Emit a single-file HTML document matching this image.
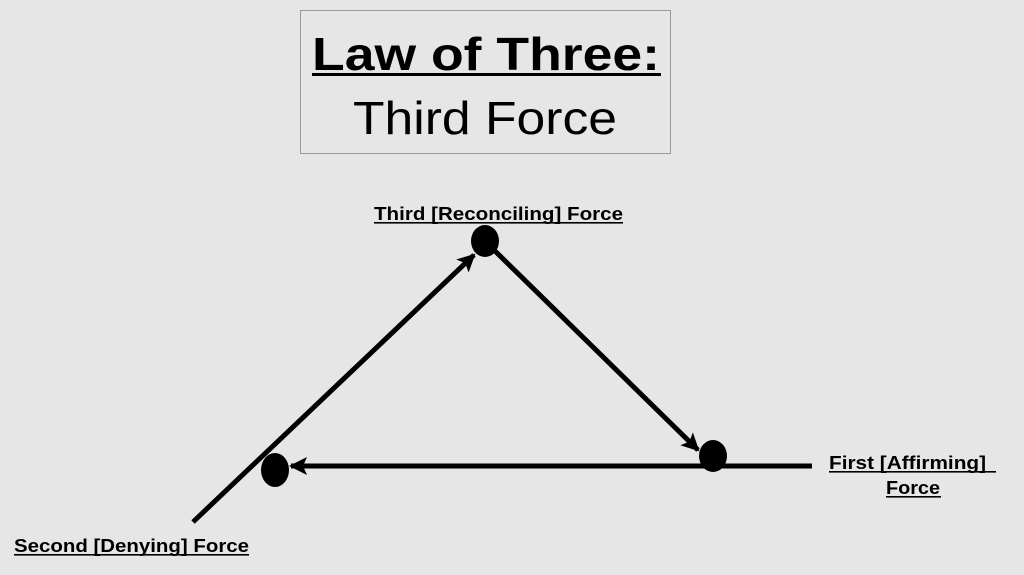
<!DOCTYPE html>
<html><head><meta charset="utf-8"><style>
html,body{margin:0;padding:0;background:#e6e6e6;}
svg{display:block;}
text{font-family:"Liberation Sans",sans-serif;fill:#000;}
</style></head><body>
<svg width="1024" height="575" viewBox="0 0 1024 575" xmlns="http://www.w3.org/2000/svg">
<defs>
<marker id="ah" markerWidth="4" markerHeight="4" refX="3.2" refY="2" orient="auto" markerUnits="strokeWidth">
<path d="M0,0.2 L3.6,2 L0,3.8 L0.8,2 Z" fill="#000"/>
</marker>
</defs>
<rect x="0" y="0" width="1024" height="575" fill="#e6e6e6"/>
<rect x="300.5" y="10.5" width="370" height="143" fill="#e6e6e6" stroke="#999" stroke-width="1"/>
<text x="312" y="70" font-size="46" font-weight="bold" textLength="348" lengthAdjust="spacingAndGlyphs">Law of Three:</text>
<rect x="312" y="73" width="349" height="3" fill="#000"/>
<text x="353" y="134" font-size="46" textLength="264" lengthAdjust="spacingAndGlyphs">Third Force</text>

<line x1="193" y1="522" x2="474" y2="255" stroke="#000" stroke-width="5" marker-end="url(#ah)"/>
<line x1="494" y1="250" x2="698" y2="450" stroke="#000" stroke-width="5" marker-end="url(#ah)"/>
<line x1="812" y1="466" x2="291" y2="466" stroke="#000" stroke-width="5" marker-end="url(#ah)"/>

<ellipse cx="485" cy="241" rx="14" ry="16" fill="#000"/>
<ellipse cx="713" cy="456" rx="14" ry="16" fill="#000"/>
<ellipse cx="275" cy="470" rx="14" ry="17" fill="#000"/>

<text x="374" y="220" font-size="18" font-weight="bold" textLength="249" lengthAdjust="spacingAndGlyphs">Third [Reconciling] Force</text>
<rect x="374" y="222" width="249" height="1.6" fill="#000"/>
<text x="829" y="469" font-size="18" font-weight="bold" textLength="157" lengthAdjust="spacingAndGlyphs">First [Affirming]</text>
<rect x="829" y="471" width="167" height="1.6" fill="#000"/>
<text x="886" y="494" font-size="18" font-weight="bold" textLength="54" lengthAdjust="spacingAndGlyphs">Force</text>
<rect x="886" y="496" width="55" height="1.6" fill="#000"/>
<text x="14" y="552" font-size="18" font-weight="bold" textLength="235" lengthAdjust="spacingAndGlyphs">Second [Denying] Force</text>
<rect x="14" y="554" width="235" height="1.6" fill="#000"/>
</svg>
</body></html>
